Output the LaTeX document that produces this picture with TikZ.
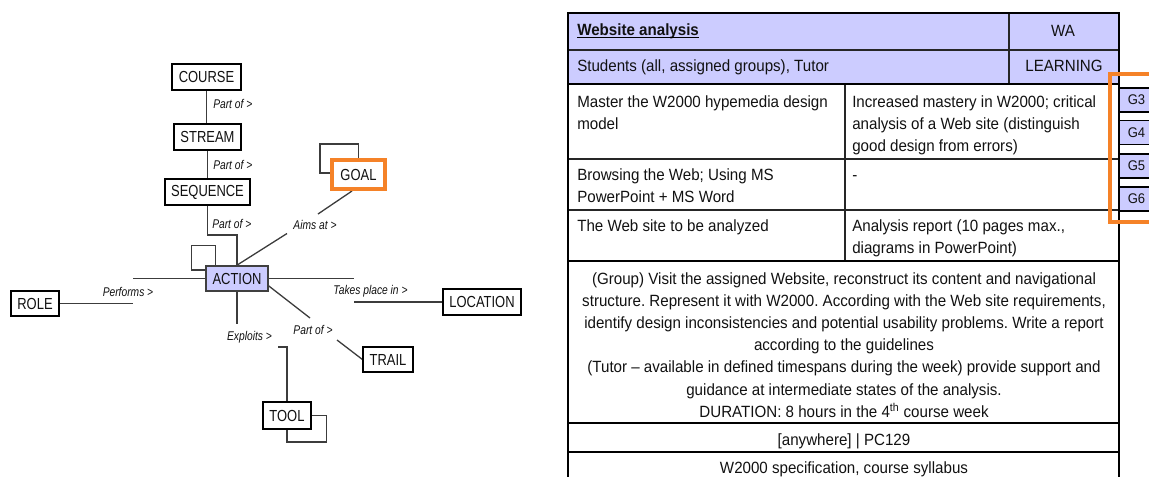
\documentclass[tikz,border=0pt]{standalone}
\usepackage{fontspec}
\setmainfont{Liberation Sans}
\newfontfamily\tabfont[FakeStretch=0.93]{Liberation Sans}
\newfontfamily\dgmfont[FakeStretch=0.81]{Liberation Sans}
\usetikzlibrary{calc,backgrounds}
\newdimen\pxu \pxu=0.75pt
\definecolor{lav}{RGB}{204,204,255}
\definecolor{orng}{RGB}{245,130,40}
\definecolor{lnk}{RGB}{60,60,60}
\definecolor{ink}{RGB}{17,17,17}
\frenchspacing
\begin{document}
\begin{tikzpicture}[x=0.75pt,y=-0.75pt,
  every node/.style={inner sep=0pt,text=ink},
  entity/.style={draw=black,line width=1.1\pxu,fill=white,font=\dgmfont\fontsize{12}{14}\selectfont},
  rel/.style={font=\dgmfont\itshape\fontsize{9.5}{11}\selectfont},
  link/.style={draw=lnk,line width=1.3\pxu},
  cell/.style={font=\tabfont\fontsize{12.2}{14}\selectfont},
  gtab/.style={draw=black,line width=1.3\pxu,fill=lav,minimum width=35\pxu,minimum height=24\pxu,font=\tabfont\fontsize{10.5}{12}\selectfont},
  tabthin/.style={draw=black!85,line width=1.1\pxu},
  tabmed/.style={draw=black,line width=1.6\pxu},
  tabthick/.style={draw=black,line width=2.2\pxu}]
\useasboundingbox (0,0) rectangle (1149,476);
\clip (0,0) rectangle (1149,476);

% ---------------- left diagram ----------------
\node[entity,minimum width=69\pxu,minimum height=26\pxu] (course) at (206.5,77) {COURSE};
\node[entity,minimum width=67\pxu,minimum height=26\pxu] (stream) at (207.5,137) {STREAM};
\node[entity,minimum width=85\pxu,minimum height=26\pxu] (sequence) at (207.5,192) {SEQUENCE};
\node[entity,fill=lav,draw=black!75,line width=1.7\pxu,minimum width=62\pxu,minimum height=25\pxu] (action) at (237,278.5) {ACTION};
\node[entity,minimum width=48\pxu,minimum height=25\pxu] (role) at (35,303.5) {ROLE};
\node[entity,minimum width=78\pxu,minimum height=26\pxu] (location) at (482,302) {LOCATION};
\node[entity,minimum width=50\pxu,minimum height=25\pxu] (trail) at (388,359.5) {TRAIL};
\node[entity,minimum width=48\pxu,minimum height=27\pxu] (tool) at (287,415.5) {TOOL};
\node[entity,draw=orng,line width=4\pxu,minimum width=53\pxu,minimum height=29\pxu] (goal) at (358.5,174.5) {GOAL};

\coordinate (bend1) at (207.5,235);
\coordinate (pr1) at (133,278.5);
\coordinate (pr2) at (133,303.5);
\coordinate (lo1) at (354,278.5);
\coordinate (lo2) at (354,302);
\coordinate (tr1) at (310,318);
\coordinate (tr2) at (337,340);
\coordinate (go1) at (287,233.5);
\coordinate (go2) at (318,214);
\coordinate (ex1) at (237,324);
\coordinate (ex2) at (278,347);

\begin{scope}[on background layer]
\draw[link] (course.south) -- (course.south |- stream.north);
\draw[link] (stream.south) -- (stream.south |- sequence.north);
\draw[link] (sequence.south) -- (bend1) -| (action.north);
\draw[link] ([xshift=10\pxu]action.north west) -- ++(0,-20) -- ++(-24,0) |- ([yshift=8.5\pxu]action.west);
\draw[link] (action.west) -- (pr1);
\draw[link] (role.east) -- (pr2);
\draw[link] (action.east) -- (lo1);
\draw[link] (location.west) -- (lo2);
\draw[link] ($(action.east)+(0,7.5)$) -- (tr1);
\draw[link] (tr2) -- (trail.west);
\draw[link] (action.north) -- (go1);
\draw[link] (go2) -- ([xshift=-6.5\pxu]goal.south);
\draw[link] (goal.north) -- ++(0,-14) -- ++(-38.5,0) |- ([yshift=1.5\pxu]goal.west);
\draw[link] (action.south) -- (ex1);
\draw[link] (ex2) -| (tool.north);
\draw[link] (tool.east) -- ++(15,0) -- ++(0,26.5) -| (tool.south);
\end{scope}

\node[rel,anchor=west] (l1) at (213,104) {Part of >};
\node[rel,anchor=west] (l2) at (213,165) {Part of >};
\node[rel,anchor=west] (l3) at (212,224) {Part of >};
\node[rel] (l4) at (315,225) {Aims at >};
\node[rel] (l5) at (128,292) {Performs >};
\node[rel] (l6) at (370.5,291) {Takes place in >};
\node[rel] (l7) at (249.5,337) {Exploits >};
\node[rel] (l8) at (313,330) {Part of >};

% ---------------- table ----------------
\fill[lav] (568,13) rectangle (1119,84);
\draw[tabthin] (568,50) -- (1119,50);
\draw[tabthin] (1009,13) -- (1009,84);
\draw[tabthin] (568,159) -- (1119,159);
\draw[tabthin] (568,210) -- (1119,210);
\draw[tabthin] (845,84) -- (845,261);
\draw[tabthick] (568,84) -- (1119,84);
\draw[tabthick] (568,261) -- (1119,261);
\draw[tabmed] (568,423) -- (1119,423);
\draw[tabmed] (568,452) -- (1119,452);
\draw[tabthick] (568,490) -- (568,13) -- (1119,13) -- (1119,490);

\node[cell,anchor=base west] (ttl) at (577,35) {\bfseries Website analysis};
\draw[line width=1\pxu] ([yshift=-2.5\pxu]ttl.base west) -- ([yshift=-2.5\pxu]ttl.base east);
\node[cell,anchor=base] (wa) at (1063,36) {WA};
\node[cell,anchor=base west] (who) at (577,71) {Students (all, assigned groups), Tutor};
\node[cell,anchor=base] (lrn) at (1064,71) {LEARNING};

\node[cell,anchor=base west] (a1) at (577,107) {Master the W2000 hypemedia design};
\node[cell,anchor=base west] (a2) at (577,129) {model};
\node[cell,anchor=base west] (b1) at (852,107) {Increased mastery in W2000; critical};
\node[cell,anchor=base west] (b2) at (852,129) {analysis of a Web site (distinguish};
\node[cell,anchor=base west] (b3) at (852,151) {good design from errors)};

\node[cell,anchor=base west] (c1) at (577,180) {Browsing the Web; Using MS};
\node[cell,anchor=base west] (c2) at (577,202) {PowerPoint + MS Word};
\node[cell,anchor=base west] (d1) at (852,180) {-};

\node[cell,anchor=base west] (e1) at (577,231) {The Web site to be analyzed};
\node[cell,anchor=base west] (f1) at (852,231) {Analysis report (10 pages max.,};
\node[cell,anchor=base west] (f2) at (852,253) {diagrams in PowerPoint)};

\node[cell,anchor=base] (p1) at (844,284) {(Group) Visit the assigned Website, reconstruct its content and navigational};
\node[cell,anchor=base] (p2) at (844,306) {structure. Represent it with W2000. According with the Web site requirements,};
\node[cell,anchor=base] (p3) at (844,328) {identify design inconsistencies and potential usability problems. Write a report};
\node[cell,anchor=base] (p4) at (844,350) {according to the guidelines};
\node[cell,anchor=base] (p5) at (844,372) {(Tutor – available in defined timespans during the week) provide support and};
\node[cell,anchor=base] (p6) at (844,395) {guidance at intermediate states of the analysis.};
\node[cell,anchor=base] (p7) at (844,417) {DURATION: 8 hours in the 4\textsuperscript{th} course week};
\node[cell,anchor=base] (q1) at (844,445) {[anywhere] | PC129};
\node[cell,anchor=base] (r1) at (844,473) {W2000 specification, course syllabus};

\node[gtab] (g3) at (1136.5,100) {G3};
\node[gtab] (g4) at (1136.5,132.5) {G4};
\node[gtab] (g5) at (1136.5,166) {G5};
\node[gtab] (g6) at (1136.5,199) {G6};

\draw[orng,line width=4\pxu] (1170,74) -- (1110,74) -- (1110,222) -- (1170,222);
\end{tikzpicture}
\end{document}
